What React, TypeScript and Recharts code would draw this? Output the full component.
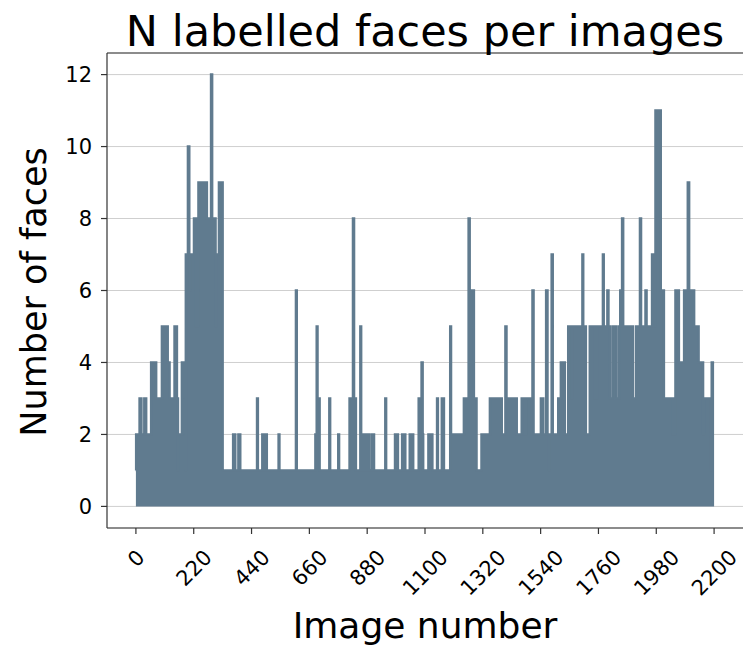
import React from 'react';
import { ComposedChart, Area, XAxis, YAxis, CartesianGrid, ReferenceLine } from 'recharts';

// [image number, faces from this image onward] — run-length reading of the picture
const leftCluster: [number, number][] = [
  [0, 1], [1, 2], [14, 3], [17, 2], [19, 3], [21, 2], [32, 3], [39, 2], [58, 4], [77, 3],
  [99, 5], [121, 4], [128, 3], [147, 5], [156, 3], [160, 1], [162, 2], [175, 4], [188, 1],
  [190, 7], [198, 10], [203, 7], [206, 6], [208, 7], [221, 8], [226, 5], [228, 8], [232, 7],
  [236, 5], [238, 9], [270, 8], [286, 12], [290, 8], [303, 5], [305, 7], [316, 9], [330, 1],
];

const middleSpikes: [number, number][] = [
  [370, 2], [378, 1], [390, 2], [397, 1], [461, 3], [464, 1], [481, 2], [485, 1], [494, 2],
  [498, 1], [543, 2], [546, 1], [609, 6], [612, 1], [683, 2], [688, 5], [691, 3], [699, 1],
  [736, 3], [739, 1], [770, 2], [773, 1], [813, 3], [826, 8], [830, 3], [837, 1], [854, 5],
  [857, 1], [865, 2], [867, 1], [876, 2], [878, 1], [887, 2], [889, 1], [899, 2], [901, 1],
  [904, 2], [906, 1], [949, 3], [952, 1], [986, 2], [988, 1], [995, 2], [997, 1], [1013, 2],
  [1015, 1], [1023, 2], [1025, 1], [1042, 2], [1044, 1], [1053, 2], [1055, 1], [1076, 3],
  [1087, 4], [1091, 2], [1093, 1], [1113, 2], [1128, 1], [1146, 3], [1149, 1], [1164, 3],
  [1166, 1], [1169, 3], [1172, 1], [1196, 5], [1199, 2], [1248, 3], [1266, 8], [1270, 6],
  [1286, 3], [1296, 1],
];

const rightCluster: [number, number][] = [
  [1315, 2], [1347, 3], [1392, 2], [1406, 5], [1410, 3], [1449, 2], [1468, 3], [1480, 2],
  [1487, 3], [1509, 6], [1513, 2], [1541, 3], [1550, 2], [1561, 6], [1566, 2], [1572, 1],
  [1574, 2], [1582, 7], [1586, 2], [1607, 3], [1617, 4], [1632, 2], [1645, 5], [1660, 3],
  [1662, 5], [1699, 7], [1702, 5], [1712, 2], [1727, 5], [1747, 3], [1754, 5], [1777, 7],
  [1780, 5], [1794, 6], [1798, 5], [1804, 3], [1814, 5], [1829, 3], [1839, 5], [1843, 6],
  [1847, 5], [1850, 8], [1854, 5], [1891, 3], [1903, 5], [1918, 8], [1922, 5], [1939, 6],
  [1943, 5], [1964, 7], [1968, 5], [1977, 11], [1997, 6], [2009, 3], [2044, 2], [2053, 6],
  [2066, 4], [2086, 6], [2100, 9], [2105, 6], [2124, 5], [2141, 4], [2158, 2], [2164, 3],
  [2186, 1], [2188, 3], [2191, 4], [2200, 4],
];

const xTicks = [0, 220, 440, 660, 880, 1100, 1320, 1540, 1760, 1980, 2200];
const yTicks = [0, 2, 4, 6, 8, 10, 12];

const data = [...leftCluster, ...middleSpikes, ...rightCluster].map(([x, v]) => ({ x, v }));

const FONT = '"DejaVu Sans", sans-serif';
const COLOR = '#607b8f';
const TICK_FS = 21;

const XTick = (props: any) => {
  const { x, payload } = props;
  const label = String(payload.value);
  const w = label.length * 0.636 * TICK_FS;
  const half = ((w + 0.73 * TICK_FS) * 0.7071) / 2;
  const cy = 548 + half;
  return (
    <g transform={`translate(${x},${cy}) rotate(-45)`}>
      <text x={0} y={0.365 * TICK_FS} textAnchor="middle" fontSize={TICK_FS} fontFamily={FONT} fill="#000">
        {label}
      </text>
    </g>
  );
};

export default function App() {
  return (
    <div style={{ position: 'absolute', left: 0, top: 0, width: 743, height: 647, background: '#fff' }}>
      <ComposedChart width={743} height={647} data={data} margin={{ top: 53, right: 0, left: 0, bottom: 0 }}>
        <CartesianGrid vertical={false} stroke="#cfcfcf" strokeWidth={1} />
        <XAxis
          dataKey="x"
          type="number"
          domain={[-110, 2310]}
          ticks={xTicks}
          interval={0}
          allowDataOverflow
          height={119}
          tickSize={6}
          tickLine={{ stroke: '#333', strokeWidth: 1.2 }}
          axisLine={{ stroke: '#333', strokeWidth: 1.2 }}
          tick={<XTick />}
        />
        <YAxis
          type="number"
          domain={[-0.6, 12.6]}
          ticks={yTicks}
          interval={0}
          allowDataOverflow
          width={107}
          tickSize={6}
          tickMargin={9}
          tickLine={{ stroke: '#333', strokeWidth: 1.2 }}
          axisLine={{ stroke: '#333', strokeWidth: 1.2 }}
          tick={{ fontSize: TICK_FS, fontFamily: FONT, fill: '#000' }}
        />
        <ReferenceLine y={12.6} stroke="#333" strokeWidth={1.2} />
        <Area
          dataKey="v"
          type="stepAfter"
          baseValue={0}
          stroke={COLOR}
          strokeWidth={2.5}
          fill={COLOR}
          fillOpacity={1}
          isAnimationActive={false}
          dot={false}
          activeDot={false}
        />
      </ComposedChart>
      <svg width={743} height={647} style={{ position: 'absolute', left: 0, top: 0, pointerEvents: 'none' }}>
        <text x={425} y={46} textAnchor="middle" fontSize={43} fontFamily={FONT} fill="#000">
          N labelled faces per images
        </text>
        <text x={425} y={638} textAnchor="middle" fontSize={36} fontFamily={FONT} fill="#000">
          Image number
        </text>
        <text
          transform="translate(46,292) rotate(-90)"
          x={0}
          y={0}
          textAnchor="middle"
          fontSize={35}
          fontFamily={FONT}
          fill="#000"
        >
          Number of faces
        </text>
      </svg>
    </div>
  );
}
